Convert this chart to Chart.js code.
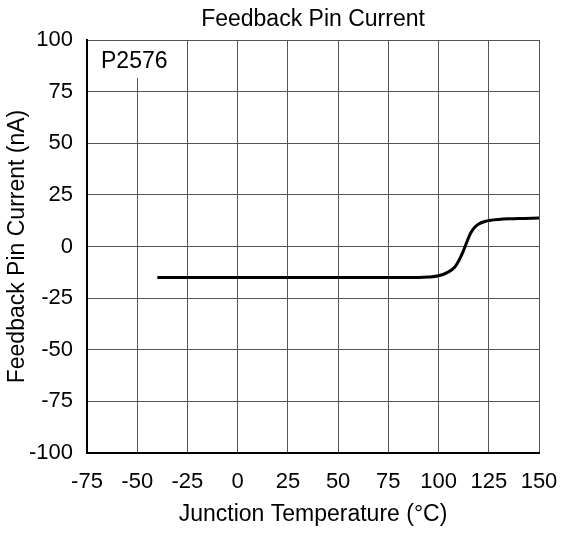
<!DOCTYPE html>
<html>
<head>
<meta charset="utf-8">
<script src="https://cdn.jsdelivr.net/npm/chart.js@4.4.1/dist/chart.umd.min.js"></script>
<style>
  html, body { margin: 0; padding: 0; background: #fff; }
  #wrap { width: 564px; height: 533px; }
</style>
</head>
<body>
<div id="wrap"><canvas id="fbChart" width="564" height="533"></canvas></div>
<script>
// Junction temperature (°C) and feedback pin current (nA)
const temps    = [-40, 0, 50, 90, 95, 100, 105, 108, 110, 112, 114, 116, 118, 120, 123, 126, 130, 135, 140, 150];
const currents = [-15, -15, -15, -15, -14.8, -14.2, -12.3, -10, -7, -3, 2, 6.5, 9.3, 10.9, 12.1, 12.7, 13.1, 13.4, 13.6, 13.8];

const xTicks = [-75, -50, -25, 0, 25, 50, 75, 100, 125, 150];
const yTicks = [-100, -75, -50, -25, 0, 25, 50, 75, 100];
const partLabel = "P2576";

const FONT = "'Liberation Sans', Arial, sans-serif";

// white label box in the top-left corner of the plot
const labelBox = {
    id: "labelBox",
    afterDatasetsDraw(chart) {
        const { ctx, chartArea } = chart;
        ctx.save();
        ctx.fillStyle = "#fff";
        ctx.fillRect(chartArea.left + 1, chartArea.top + 1, 97, 37);
        ctx.fillStyle = "#000";
        ctx.font = "23px " + FONT;
        ctx.textBaseline = "alphabetic";
        ctx.fillText(partLabel, chartArea.left + 14, chartArea.top + 28);
        ctx.restore();
    }
};

new Chart(document.getElementById("fbChart").getContext("2d"), {
    type: "scatter",
    data: {
        datasets: [{
            label: "Feedback Pin Current",
            data: temps.map((t, i) => ({ x: t, y: currents[i] })),
            showLine: true,
            borderColor: "#000",
            borderWidth: 3,
            pointRadius: 0,
            cubicInterpolationMode: "monotone",
            fill: false
        }]
    },
    options: {
        responsive: false,
        animation: false,
        layout: { padding: { left: 0, right: 25, top: 0, bottom: 0 } },
        plugins: {
            legend: { display: false },
            tooltip: { enabled: false },
            title: {
                display: true,
                fullSize: false,
                text: "Feedback Pin Current",
                color: "#000",
                font: { family: FONT, size: 23, weight: "normal" },
                padding: { top: 5.5, bottom: 6.9 }
            }
        },
        scales: {
            x: {
                type: "linear",
                min: -75, max: 150,
                afterBuildTicks: (s) => { s.ticks = xTicks.map(v => ({ value: v })); },
                afterFit: (s) => { s.height = 80; s.paddingLeft = 0; s.paddingRight = 0; },
                grid: { color: "#555", lineWidth: 1, drawTicks: false },
                border: { color: "#000", width: 2 },
                ticks: { color: "#000", font: { family: FONT, size: 22 }, padding: 15.5, maxRotation: 0 },
                title: {
                    display: true,
                    text: "Junction Temperature (°C)",
                    color: "#000",
                    font: { family: FONT, size: 23 },
                    padding: { top: 4, bottom: 4.5 }
                }
            },
            y: {
                type: "linear",
                min: -100, max: 100,
                afterBuildTicks: (s) => { s.ticks = yTicks.map(v => ({ value: v })); },
                afterFit: (s) => { s.width = 87; s.paddingTop = 0; s.paddingBottom = 0; },
                grid: { color: "#555", lineWidth: 1, drawTicks: false },
                border: { color: "#000", width: 2 },
                ticks: { color: "#000", font: { family: FONT, size: 22 }, padding: 14 },
                title: {
                    display: true,
                    text: "Feedback Pin Current (nA)",
                    color: "#000",
                    font: { family: FONT, size: 23 },
                    padding: { top: 4, bottom: 4 }
                }
            }
        }
    },
    plugins: [labelBox]
});
</script>
</body>
</html>
